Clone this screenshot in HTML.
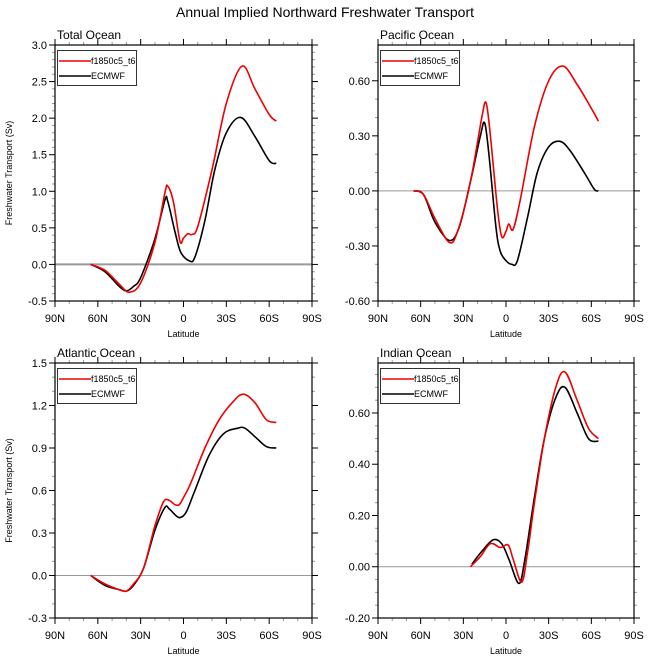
<!DOCTYPE html>
<html><head><meta charset="utf-8"><style>
body{margin:0;background:#fff;}
svg{display:block;font-family:"Liberation Sans",sans-serif;}
</style></head><body>
<svg id="s" width="649" height="663" xmlns="http://www.w3.org/2000/svg"></svg>
<script>
const S=document.getElementById('s');let h='';
h+='<text x="325" y="17" font-size="14" text-anchor="middle">Annual Implied Northward Freshwater Transport</text>';
function cr(pts){let d='M'+pts[0][0].toFixed(1)+','+pts[0][1].toFixed(1);
for(let i=0;i<pts.length-1;i++){const p0=pts[i-1]||pts[i],p1=pts[i],p2=pts[i+1],p3=pts[i+2]||p2;
d+=' C'+(p1[0]+(p2[0]-p0[0])/6).toFixed(1)+','+(p1[1]+(p2[1]-p0[1])/6).toFixed(1)+' '+(p2[0]-(p3[0]-p1[0])/6).toFixed(1)+','+(p2[1]-(p3[1]-p1[1])/6).toFixed(1)+' '+p2[0].toFixed(1)+','+p2[1].toFixed(1);}
return d;}
function panel(o){const{x0,x1,y0,y1,ymin,ymax,major,minor,dec,title,ylab,red,blk}=o;
const X=s=>x0+(s+90)/180*(x1-x0),Y=v=>y1-(v-ymin)/(ymax-ymin)*(y1-y0);
h+=`<text x="${x0+2}" y="${y0-6}" font-size="12">${title}</text>`;
const eps=1e-6;
for(let v=Math.ceil(ymin/minor-eps)*minor;v<=ymax+eps;v+=minor){const y=Y(v);
const isM=Math.abs(Math.round(v/major)*major-v)<eps;const L=isM?6:3;const c=isM?'#000':'#999';
h+=`<line x1="${x0-L}" y1="${y}" x2="${x0}" y2="${y}" stroke="${c}" stroke-width="1"/><line x1="${x1}" y1="${y}" x2="${x1+L}" y2="${y}" stroke="${c}"/>`;
if(isM){const vv=Math.abs(v)<eps?0:v;h+=`<text x="${x0-8}" y="${y+4}" font-size="11" text-anchor="end">${vv.toFixed(dec)}</text>`;}}
const lab={'-90':'90N','-60':'60N','-30':'30N','0':'0','30':'30S','60':'60S','90':'90S'};
for(let s=-90;s<=90;s+=10){const x=X(s);const isM=s%30==0;const L=isM?6:3;const c=isM?'#000':'#999';
h+=`<line x1="${x}" y1="${y1}" x2="${x}" y2="${y1+L}" stroke="${c}"/><line x1="${x}" y1="${y0-L}" x2="${x}" y2="${y0}" stroke="${c}"/>`;
if(isM)h+=`<text x="${x}" y="${y1+21}" font-size="11" text-anchor="middle">${lab[s]}</text>`;}
h+=`<text x="${(x0+x1)/2}" y="${y1+36}" font-size="9" text-anchor="middle">Latitude</text>`;
if(ylab)h+=`<text transform="translate(12,${(y0+y1)/2}) rotate(-90)" font-size="9" text-anchor="middle">Freshwater Transport (Sv)</text>`;
h+=`<line x1="${x0}" y1="${Y(0)}" x2="${x1}" y2="${Y(0)}" stroke="#999" stroke-width="${o.zw||1}"/>`;
h+=`<path d="${cr(blk.map(p=>[X(p[0]),Y(p[1])]))}" fill="none" stroke="#000" stroke-width="1.6"/>`;
h+=`<path d="${cr(red.map(p=>[X(p[0]),Y(p[1])]))}" fill="none" stroke="#e00" stroke-width="1.6"/>`;
h+=`<rect x="${x0}" y="${y0}" width="${x1-x0}" height="${y1-y0}" fill="none" stroke="#000" stroke-width="1.2"/>`;
h+=`<rect x="${x0+2.5}" y="${y0+5.5}" width="79" height="35" fill="#fff" stroke="#000" stroke-width="0.8"/>`;
h+=`<line x1="${x0+4}" y1="${y0+16}" x2="${x0+36}" y2="${y0+16}" stroke="#e00" stroke-width="1.5"/><text x="${x0+36}" y="${y0+19}" font-size="9">f1850c5_t6</text>`;
h+=`<line x1="${x0+4}" y1="${y0+31}" x2="${x0+36}" y2="${y0+31}" stroke="#000" stroke-width="1.5"/><text x="${x0+36}" y="${y0+34}" font-size="9">ECMWF</text>`;}
panel({x0:55,x1:312,y0:45,y1:301,ymin:-0.5,ymax:3,major:0.5,minor:0.1,dec:1,title:'Total Ocean',ylab:1,zw:2,
red:[[-65,0],[-55,-0.08],[-45,-0.27],[-38,-0.38],[-30,-0.25],[-20,0.3],[-13,0.98],[-11,1.07],[-7,0.85],[-2.5,0.32],[0,0.36],[3,0.42],[6,0.41],[10,0.52],[20,1.3],[30,2.2],[41,2.71],[50,2.4],[60,2.05],[65,1.96]],
blk:[[-65,0],[-55,-0.1],[-45,-0.3],[-40,-0.36],[-35,-0.3],[-30,-0.18],[-20,0.35],[-13,0.88],[-11,0.86],[-6,0.45],[-2,0.17],[4,0.05],[8,0.1],[15,0.6],[22,1.3],[30,1.8],[40,2.01],[50,1.75],[60,1.42],[65,1.38]]});
panel({x0:378,x1:634,y0:45,y1:301,ymin:-0.6,ymax:0.795,major:0.3,minor:0.1,dec:2,title:'Pacific Ocean',
red:[[-65,0],[-58,-0.02],[-50,-0.15],[-40,-0.28],[-34,-0.22],[-25,0.05],[-17,0.4],[-14,0.48],[-11,0.3],[-6,-0.1],[-3,-0.25],[0,-0.22],[2,-0.18],[5,-0.21],[10,-0.05],[20,0.35],[30,0.6],[40,0.68],[50,0.58],[60,0.45],[65,0.38]],
blk:[[-65,0],[-58,-0.02],[-50,-0.17],[-40,-0.27],[-33,-0.2],[-25,0.05],[-18,0.3],[-15,0.37],[-12,0.2],[-7,-0.2],[-4,-0.33],[0,-0.38],[4,-0.4],[8,-0.38],[15,-0.15],[22,0.1],[30,0.24],[38,0.27],[45,0.22],[55,0.1],[62,0.01],[65,0]]});
panel({x0:55,x1:312,y0:363,y1:618,ymin:-0.3,ymax:1.5,major:0.3,minor:0.1,dec:1,title:'Atlantic Ocean',ylab:1,
red:[[-65,0],[-55,-0.06],[-45,-0.1],[-40,-0.11],[-35,-0.06],[-28,0.05],[-20,0.35],[-14,0.52],[-10,0.53],[-6,0.5],[-3,0.5],[0,0.55],[5,0.65],[15,0.9],[25,1.1],[35,1.23],[42,1.28],[50,1.22],[58,1.1],[65,1.08]],
blk:[[-65,0],[-55,-0.07],[-45,-0.1],[-40,-0.11],[-35,-0.07],[-28,0.05],[-20,0.32],[-13,0.48],[-10,0.47],[-5,0.42],[-2,0.41],[2,0.45],[8,0.6],[18,0.85],[28,1.0],[38,1.04],[43,1.04],[50,0.98],[58,0.91],[65,0.9]]});
panel({x0:378,x1:634,y0:363,y1:618,ymin:-0.2,ymax:0.795,major:0.2,minor:0.05,dec:2,title:'Indian Ocean',
red:[[-25,0],[-18,0.04],[-11,0.09],[-4,0.075],[1.5,0.085],[5,0.03],[11,-0.06],[15,0.05],[20,0.25],[27,0.5],[35,0.7],[41.5,0.76],[50,0.65],[58,0.54],[65,0.5]],
blk:[[-24,0.01],[-17,0.06],[-9,0.105],[-3,0.09],[2,0.03],[9,-0.065],[13,0.02],[20,0.27],[27,0.5],[35,0.66],[41.5,0.7],[50,0.6],[58,0.5],[65,0.49]]});
S.innerHTML=h;
</script>
</body></html>
